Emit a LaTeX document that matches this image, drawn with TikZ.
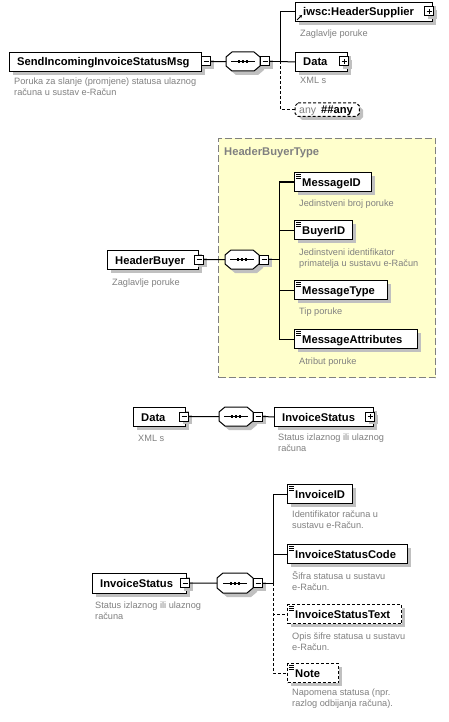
\documentclass[tikz,border=0pt]{standalone}
\usepackage{fontspec}
\setmainfont{Liberation Sans}
\usetikzlibrary{arrows.meta}
\definecolor{shd}{RGB}{192,192,192}
\definecolor{desc}{RGB}{128,128,128}
\definecolor{ylw}{RGB}{255,255,204}
\tikzset{
  elbox/.style={draw=black,fill=white,line width=1pt,inner sep=0},
  nm/.style={inner sep=0,font=\fontsize{11.2}{13}\selectfont\bfseries},
  dsc/.style={inner sep=0,anchor=base west,text=desc,font=\fontsize{9.2}{11}\selectfont},
  btn/.style={draw=black,fill=white,line width=1pt,minimum size=9pt,inner sep=0},
  conn/.style={line width=1pt},
  dconn/.style={line width=1pt,dash pattern=on 3pt off 2pt},
  dbox/.style={dash pattern=on 3pt off 2pt},
  ytype/.style={draw=desc,fill=ylw,line width=1pt,dash pattern=on 7pt off 3pt,inner sep=0},
}
\newcommand{\dsctext}[1]{\begin{tabular}[t]{@{}l@{}}#1\end{tabular}}
% element box: [style]{name}{x0}{y0}{x1}{y1}{text}
\newcommand{\elm}[7][]{%
  \fill[shd] (#3+4,#4+4) rectangle (#5+4,#6+4);
  \node[elbox,#1,minimum width=#5-#3,minimum height=#6-#4,anchor=north west] (#2) at (#3,#4) {};
  \node[nm,anchor=base west] (#2-t) at ([shift={(8,4)}]#2.west) {#7};
}
\newcommand{\icn}[1]{%
  \draw[line width=0.8pt] ([shift={(2,2.5)}]#1.north west) -- ++(5,0)
    ([shift={(2,4.5)}]#1.north west) -- ++(5,0)
    ([shift={(2,6.5)}]#1.north west) -- ++(5,0);
}
\newcommand{\mbtn}[3]{%
  \fill[shd] (#2-1.5,#3-1.5) rectangle (#2+7.5,#3+7.5);
  \node[btn] (#1) at (#2,#3) {};
  \draw[line width=1pt] (#1.center) ++(-2.5,0) -- ++(5,0);
}
\newcommand{\pbtn}[3]{%
  \fill[shd] (#2-1.5,#3-1.5) rectangle (#2+7.5,#3+7.5);
  \node[btn] (#1) at (#2,#3) {};
  \draw[line width=1pt] (#1.center) ++(-2.5,0) -- ++(5,0) (#1.center) ++(0,-2.5) -- ++(0,5);
}
% sequence compositor: {name}{x0}{y0}{x1}{y1}
\newcommand{\seqsym}[5]{%
  \fill[shd] (#2+10,#3+4) -- (#4-2,#3+4) -- (#4+4,#3+9) -- (#4+4,#5-1) -- (#4-2,#5+4) -- (#2+10,#5+4) -- (#2+4,#5-1) -- (#2+4,#3+9) -- cycle;
  \node[inner sep=0,minimum width=#4-#2,minimum height=#5-#3,anchor=north west] (#1) at (#2,#3) {};
  \draw[line width=1pt,fill=white] (#2+6,#3) -- (#4-6,#3) -- (#4,#3+5) -- (#4,#5-5) -- (#4-6,#5) -- (#2+6,#5) -- (#2,#5-5) -- (#2,#3+5) -- cycle;
  \draw[line width=1pt] (#1.center) ++(-12,0) -- ++(24,0);
  \fill (#1.center) ++(-5.2,-1.5) rectangle ++(2.4,3);
  \fill (#1.center) ++(-1.2,-1.5) rectangle ++(2.4,3);
  \fill (#1.center) ++(2.8,-1.5) rectangle ++(2.4,3);
}
\begin{document}
\begin{tikzpicture}[x=1pt,y=-1pt]
\useasboundingbox (0,0) rectangle (448,722);
\fill[white] (0,0) rectangle (448,722);

% ===== Section 1 =====
\elm{sim}{9}{52}{201}{71}{SendIncomingInvoiceStatusMsg}
\mbtn{sim-b}{206}{61.5}
\seqsym{seq1}{226}{52}{260}{71}
\mbtn{seq1-b}{265}{61.5}
\coordinate (bar1) at (280,61.5);
\elm{hs}{295}{2}{432}{21}{iwsc:HeaderSupplier}
\draw[line width=0.8pt,-{Stealth[length=3pt,width=3.5pt]}] ([shift={(2,-2)}]hs.south west) -- ++(5,-5);
\pbtn{hs-b}{429}{11.5}
\elm{data1}{295}{52}{347}{71}{Data}
\pbtn{data1-b}{344}{61.5}
% any
\fill[shd] (298+4,103+4) -- (356+4,103+4) -- (359+4,106+4) -- (359+4,113+4) -- (356+4,116+4) -- (298+4,116+4) -- (295+4,113+4) -- (295+4,106+4) -- cycle;
\node[inner sep=0,minimum width=64,minimum height=13,anchor=north west] (any) at (295,103) {};
\draw[line width=1pt,dbox,fill=white] ([shift={(3,0)}]any.north west) -- ([shift={(-3,0)}]any.north east) -- ([shift={(0,3)}]any.north east) -- ([shift={(0,-3)}]any.south east) -- ([shift={(-3,0)}]any.south east) -- ([shift={(3,0)}]any.south west) -- ([shift={(0,-3)}]any.south west) -- ([shift={(0,3)}]any.north west) -- cycle;
\node[inner sep=0,anchor=base west] (any-t) at ([shift={(4,4)}]any.west) {{\color{desc}\fontsize{10.5}{12}\selectfont any}\hspace{5pt}{\fontsize{11.2}{13}\selectfont\bfseries\#\#any}};

\draw[conn] (sim-b.east) -- (seq1.west);
\draw[conn] (seq1-b.east) -- (bar1);
\draw[conn] (bar1) |- (hs.west);
\draw[conn] (bar1) -- (data1.west);
\draw[dconn] (bar1) |- (any.west);

\node[dsc] (sim-d) at (14,85) {\dsctext{Poruka za slanje (promjene) statusa ulaznog\\računa u sustav e-Račun}};
\node[dsc] (hs-d) at (300,37) {Zaglavlje poruke};
\node[dsc] (data1-d) at (300,84) {XML s};

% ===== Section 2 =====
\node[ytype,minimum width=217,minimum height=239,anchor=north west] (hbt) at (218,138) {};
\node[inner sep=0,anchor=base west,text=desc,font=\fontsize{11.2}{13}\selectfont\bfseries] (hbt-t) at (224,156) {HeaderBuyerType};
\elm{hb}{107}{250}{198}{269}{HeaderBuyer}
\mbtn{hb-b}{199}{259.5}
\seqsym{seq2}{225}{250}{259}{269}
\mbtn{seq2-b}{264}{259.5}
\coordinate (bar2) at (279,259.5);
\elm{mid}{294}{172}{371}{191}{MessageID}\icn{mid}
\elm{bid}{294}{220}{352}{239}{BuyerID}\icn{bid}
\elm{mty}{294}{280}{387}{299}{MessageType}\icn{mty}
\elm{mat}{294}{329}{417}{348}{MessageAttributes}\icn{mat}
\draw[conn] (hb-b.east) -- (seq2.west);
\draw[conn] (seq2-b.east) -- (bar2);
\draw[conn] (bar2) |- (mid.west);
\draw[conn] (bar2) |- (bid.west);
\draw[conn] (bar2) |- (mty.west);
\draw[conn] (bar2) |- (mat.west);
\node[dsc] (hb-d) at (112,285) {Zaglavlje poruke};
\node[dsc] (mid-d) at (299,206) {Jedinstveni broj poruke};
\node[dsc] (bid-d) at (299,255) {\dsctext{Jedinstveni identifikator\\primatelja u sustavu e-Račun}};
\node[dsc] (mty-d) at (299,314) {Tip poruke};
\node[dsc] (mat-d) at (299,364) {Atribut poruke};

% ===== Section 3 =====
\elm{data2}{133}{407}{185}{426}{Data}
\mbtn{data2-b}{184}{416.5}
\seqsym{seq3}{219}{407}{253}{426}
\mbtn{seq3-b}{258}{416.5}
\elm{is1}{274}{407}{373}{426}{InvoiceStatus}
\pbtn{is1-b}{370}{416.5}
\draw[conn] (data2-b.east) -- (seq3.west);
\draw[conn] (seq3-b.east) -- (is1.west);
\node[dsc] (data2-d) at (138,441) {XML s};
\node[dsc] (is1-d) at (278,440) {\dsctext{Status izlaznog ili ulaznog\\računa}};

% ===== Section 4 =====
\elm{is2}{92}{573}{186}{593}{InvoiceStatus}
\mbtn{is2-b}{185}{583}
\seqsym{seq4}{217}{573}{253}{593}
\mbtn{seq4-b}{258}{583}
\coordinate (bar4) at (273,583);
\elm{iid}{287}{484}{352}{503}{InvoiceID}\icn{iid}
\elm{isc}{287}{544}{407}{563}{InvoiceStatusCode}\icn{isc}
\elm[dbox]{ist}{287}{604}{401}{623}{InvoiceStatusText}\icn{ist}
\elm[dbox]{note}{287}{663}{338}{682}{Note}\icn{note}
\draw[conn] (is2-b.east) -- (seq4.west);
\draw[conn] (seq4-b.east) -- (bar4);
\draw[conn] (bar4) |- (iid.west);
\draw[conn] (bar4) |- (isc.west);
\draw[dconn] (bar4) |- (ist.west);
\draw[dconn] (bar4) |- (note.west);
\node[dsc] (is2-d) at (95,608) {\dsctext{Status izlaznog ili ulaznog\\računa}};
\node[dsc] (iid-d) at (292,517) {\dsctext{Identifikator računa u\\sustavu e-Račun.}};
\node[dsc] (isc-d) at (292,579) {\dsctext{Šifra statusa u sustavu\\e-Račun.}};
\node[dsc] (ist-d) at (292,639) {\dsctext{Opis šifre statusa u sustavu\\e-Račun.}};
\node[dsc] (note-d) at (292,695) {\dsctext{Napomena statusa (npr.\\razlog odbijanja računa).}};
\end{tikzpicture}
\end{document}
